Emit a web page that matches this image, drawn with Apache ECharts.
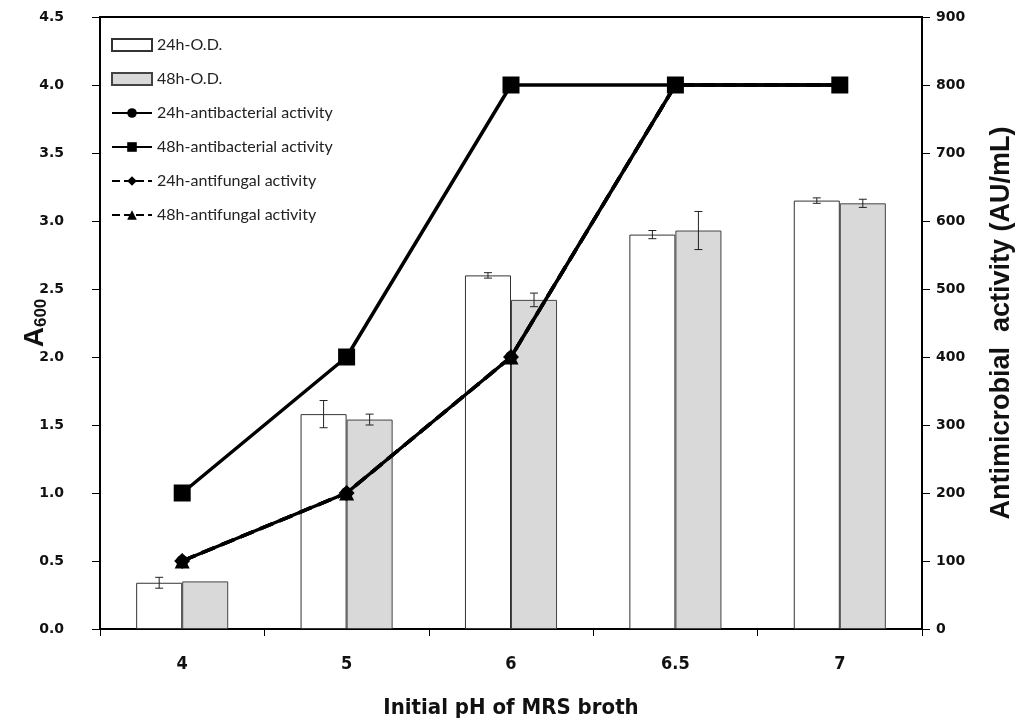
<!DOCTYPE html>
<html>
<head>
<meta charset="utf-8">
<script src="https://cdn.jsdelivr.net/npm/echarts@6/dist/echarts.min.js"></script>
<style>html,body{margin:0;padding:0;background:#fff;}#c{width:1026px;height:728px;}</style>
</head>
<body>
<div id="c"></div>
<script>
var categories = ['4', '5', '6', '6.5', '7'];
var od24 = [0.34, 1.58, 2.60, 2.90, 3.15];
var od24Err = [0.04, 0.10, 0.02, 0.03, 0.02];
var od48 = [0.35, 1.54, 2.42, 2.93, 3.13];
var od48Err = [0, 0.04, 0.05, 0.14, 0.03];
var antibac24 = [100, 200, 400, 800, 800];
var antibac48 = [200, 400, 800, 800, 800];
var antifun24 = [100, 200, 400, 800, 800];
var antifun48 = [100, 200, 400, 800, 800];
var leftTicks = [0, 4.5, 0.5];
var rightTicks = [0, 900, 100];

var BAR_FRAC = 0.28;
function errData(vals, errs) {
  return vals.map(function (v, i) { return [i, v, errs[i]]; });
}
function errRender(side) {
  return function (params, api) {
    var idx = api.value(0), v = api.value(1), e = api.value(2);
    if (!e) return null;
    var band = api.size([1, 0])[0];
    var off = side * band * BAR_FRAC / 2;
    var top = api.coord([idx, v + e]);
    var bot = api.coord([idx, v - e]);
    var x = top[0] + off;
    var cap = 4;
    var st = { stroke: '#222', lineWidth: 1 };
    return {
      type: 'group',
      children: [
        { type: 'line', shape: { x1: x, y1: top[1], x2: x, y2: bot[1] }, style: st },
        { type: 'line', shape: { x1: x - cap, y1: top[1], x2: x + cap, y2: top[1] }, style: st },
        { type: 'line', shape: { x1: x - cap, y1: bot[1], x2: x + cap, y2: bot[1] }, style: st }
      ]
    };
  };
}

var tickFont = { fontFamily: 'DejaVu Sans', fontWeight: 'bold', fontSize: 14, color: '#111' };
var narrow = '"DejaVu Sans Condensed", "Liberation Sans", sans-serif';
var chart = echarts.init(document.getElementById('c'), null, { renderer: 'canvas' });
chart.setOption({
  animation: false,
  backgroundColor: '#fff',
  grid: { left: 100, right: 104, top: 17, bottom: 99, containLabel: false, outerBoundsMode: 'none',
    show: true, borderColor: '#000', borderWidth: 2, backgroundColor: 'transparent' },
  legend: {
    orient: 'vertical', left: 106, top: 32, itemWidth: 40, itemHeight: 12, itemGap: 18,
    textStyle: { fontFamily: 'Lato', fontSize: 16, color: '#222' },
    data: [
      { name: '24h-O.D.', icon: 'rect' },
      { name: '48h-O.D.', icon: 'rect' },
      { name: '24h-antibacterial activity' },
      { name: '48h-antibacterial activity' },
      { name: '24h-antifungal activity' },
      { name: '48h-antifungal activity' }
    ]
  },
  xAxis: {
    type: 'category', data: categories,
    axisLine: { lineStyle: { color: '#000', width: 2 } },
    axisTick: { show: true, length: 7, lineStyle: { color: '#000', width: 1 } },
    axisLabel: { margin: 26, fontFamily: narrow, fontWeight: 'bold', fontSize: 18, color: '#111' },
    name: 'Initial pH of MRS broth', nameLocation: 'middle', nameGap: 68, nameMoveOverlap: false,
    nameTextStyle: { fontFamily: narrow, fontWeight: 'bold', fontSize: 22, color: '#111' }
  },
  yAxis: [
    {
      type: 'value', min: leftTicks[0], max: leftTicks[1], interval: leftTicks[2],
      axisLine: { show: true, lineStyle: { color: '#000', width: 2 } },
      axisTick: { show: true, length: 8, lineStyle: { color: '#000' } },
      splitLine: { show: false },
      axisLabel: Object.assign({ margin: 36, formatter: function (v) { return v.toFixed(1); } }, tickFont),
      name: '{a|A}{s|600}', nameLocation: 'middle', nameGap: 50, nameRotate: 90, nameMoveOverlap: false,
      nameTextStyle: {
        rich: {
          a: { fontFamily: 'Liberation Sans', fontWeight: 'bold', fontSize: 28, color: '#111' },
          s: { fontFamily: 'Liberation Sans', fontWeight: 'bold', fontSize: 17, color: '#111', padding: [12, 0, 0, 0] }
        }
      }
    },
    {
      type: 'value', min: rightTicks[0], max: rightTicks[1], interval: rightTicks[2], position: 'right',
      axisLine: { show: true, lineStyle: { color: '#000', width: 2 } },
      axisTick: { show: true, length: 8, lineStyle: { color: '#000' } },
      splitLine: { show: false },
      axisLabel: Object.assign({ margin: 14 }, tickFont),
      name: 'Antimicrobial  activity (AU/mL)', nameLocation: 'middle', nameGap: 66, nameRotate: 90, nameMoveOverlap: false,
      nameTextStyle: { fontFamily: 'Liberation Sans', fontWeight: 'bold', fontSize: 27, color: '#111' }
    }
  ],
  series: [
    { name: '24h-O.D.', type: 'bar', data: od24, barWidth: (BAR_FRAC * 100) + '%', barGap: '0%',
      itemStyle: { color: '#fff', borderColor: '#333', borderWidth: 1 } },
    { name: '48h-O.D.', type: 'bar', data: od48, barWidth: (BAR_FRAC * 100) + '%', barGap: '0%',
      itemStyle: { color: '#d9d9d9', borderColor: '#444', borderWidth: 1 } },
    { type: 'custom', name: 'err24', data: errData(od24, od24Err), renderItem: errRender(-1), z: 3, silent: true },
    { type: 'custom', name: 'err48', data: errData(od48, od48Err), renderItem: errRender(1), z: 3, silent: true },
    { name: '24h-antifungal activity', type: 'line', yAxisIndex: 1, data: antifun24, symbol: 'diamond', symbolSize: 16,
      lineStyle: { color: '#000', width: 3.5, type: 'dashed' }, itemStyle: { color: '#000' }, z: 4 },
    { name: '48h-antifungal activity', type: 'line', yAxisIndex: 1, data: antifun48, symbol: 'triangle', symbolSize: 15,
      lineStyle: { color: '#000', width: 3.5, type: 'dashed' }, itemStyle: { color: '#000' }, z: 4 },
    { name: '24h-antibacterial activity', type: 'line', yAxisIndex: 1, data: antibac24, symbol: 'circle', symbolSize: 12,
      lineStyle: { color: '#000', width: 3.5 }, itemStyle: { color: '#000' }, z: 5 },
    { name: '48h-antibacterial activity', type: 'line', yAxisIndex: 1, data: antibac48, symbol: 'rect', symbolSize: 17,
      lineStyle: { color: '#000', width: 3.5 }, itemStyle: { color: '#000' }, z: 6 }
  ]
});
</script>
</body>
</html>
